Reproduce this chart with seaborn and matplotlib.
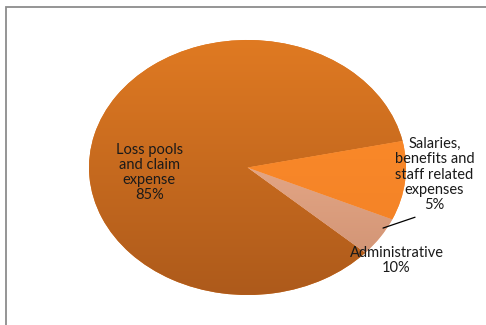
import matplotlib
matplotlib.use("Agg")
import matplotlib.pyplot as plt
import numpy as np
import seaborn as sns
from matplotlib.colors import LinearSegmentedColormap
from matplotlib.patches import Rectangle

CATEGORIES = [
    "Loss pools\nand claim\nexpense",
    "Salaries,\nbenefits and\nstaff related\nexpenses",
    "Administrative",
]
SHARES = [85, 5, 10]

# top -> bottom gradient colours per slice
GRADIENTS = [
    ("#E07A22", "#AD5A1B"),
    ("#FBBC98", "#CB8E70"),
    ("#FF8E2C", "#F07F25"),
]

sns.set_theme(style="white")
plt.rcParams["font.family"] = ["Lato", "DejaVu Sans"]

fig = plt.figure(figsize=(4.86, 3.25), dpi=100)
fig.patch.set_facecolor("white")

# chart frame (cut on the right and bottom like the screenshot)
fig.patches.append(
    Rectangle((6 / 486, -0.1), 1.2, 1 - 6.5 / 325 + 0.1, transform=fig.transFigure,
              fill=False, edgecolor="#8c8c8c", linewidth=1.3)
)

ax = fig.add_axes([89 / 486, 30 / 325, 317 / 486, 255 / 325])
wedges, _ = ax.pie(
    SHARES,
    startangle=12,
    counterclock=True,
    colors=[g[0] for g in GRADIENTS],
    wedgeprops=dict(linewidth=0),
)
ax.set_aspect("auto")
ax.axis("off")

grad = np.linspace(0, 1, 256).reshape(-1, 1)
for wedge, (top, bottom) in zip(wedges, GRADIENTS):
    cmap = LinearSegmentedColormap.from_list("g", [top, bottom])
    im = ax.imshow(grad, cmap=cmap, extent=(-1, 1, -1, 1), aspect="auto",
                   origin="upper", zorder=wedge.get_zorder() + 0.1)
    im.set_clip_path(wedge)
ax.set_xlim(-1, 1)
ax.set_ylim(-1, 1)

label_style = dict(ha="center", va="center", fontsize=10.5, color="#1a1a1a", linespacing=1.1)
ax.text(-0.62, -0.04, f"{CATEGORIES[0]}\n{SHARES[0]}%", **label_style)
ax.text(1.18, -0.055, f"{CATEGORIES[1]}\n{SHARES[1]}%", clip_on=False, **label_style)
ax.text(0.94, -0.73, f"{CATEGORIES[2]}\n{SHARES[2]}%", clip_on=False, **label_style)
ax.plot([1.057, 0.855], [-0.39, -0.475], color="black", linewidth=0.9, clip_on=False)

fig.savefig("out.png", dpi=100)
